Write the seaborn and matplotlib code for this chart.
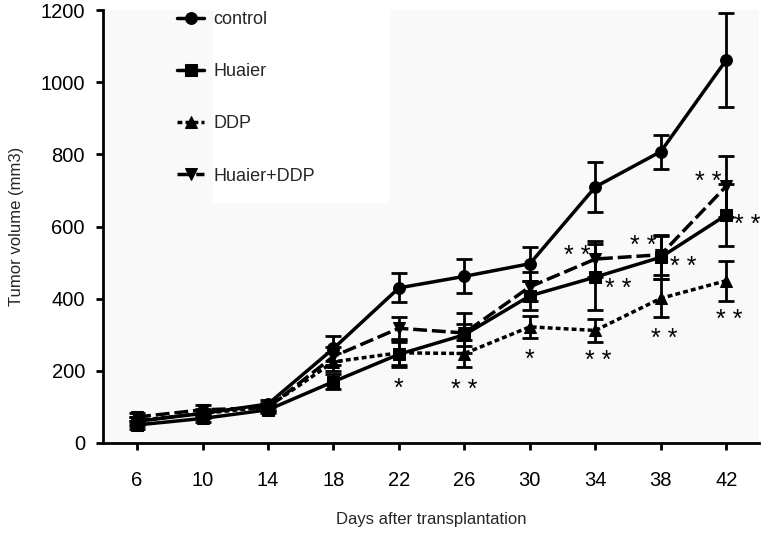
import matplotlib
matplotlib.use("Agg")
import matplotlib.pyplot as plt
import matplotlib.patches as mpatches
import seaborn as sns
import numpy as np

# Tumor growth data (mean +/- error)
days = [6, 10, 14, 18, 22, 26, 30, 34, 38, 42]
control = [60, 82, 108, 262, 430, 462, 497, 710, 808, 1062]
control_err = [12, 12, 10, 35, 40, 47, 47, 69, 47, 130]
huaier = [50, 68, 92, 170, 246, 300, 408, 460, 515, 632]
huaier_err = [10, 10, 10, 20, 35, 30, 40, 92, 60, 85]
ddp = [62, 82, 100, 225, 250, 248, 322, 312, 401, 450]
ddp_err = [10, 10, 10, 25, 35, 38, 30, 32, 53, 55]
hd = [72, 92, 98, 240, 318, 305, 433, 510, 522, 712]
hd_err = [12, 14, 10, 25, 30, 55, 40, 50, 55, 85]

group_names = ["control", "Huaier", "DDP", "Huaier+DDP"]

# significance marks: (x, y, text)
star_x = [22, 26, 30, 34.2, 32.9, 35.4, 38.2, 36.9, 39.4, 42.2, 40.9, 43.3]
star_y = [150, 147, 230, 227, 518, 427, 288, 546, 488, 341, 723, 604]
star_txt = ["*", "* *", "*", "* *", "* *", "* *", "* *", "* *", "* *", "* *", "* *", "* *"]

sns.set_style("ticks")
plt.rcParams["font.family"] = ["Liberation Sans", "DejaVu Sans"]

fig = plt.figure(figsize=(7.69, 5.35), dpi=100)
ax = fig.add_axes([0.134, 0.172, 0.853, 0.809])
ax.set_facecolor("#f9f9f9")

# white box behind the legend text
ax.add_patch(mpatches.Rectangle((0.168, 0.554), 0.27, 0.47, transform=ax.transAxes,
                                facecolor="white", edgecolor="none", zorder=0, clip_on=False))

series = [control, huaier, ddp, hd]
errs = [control_err, huaier_err, ddp_err, hd_err]
markers = ["o", "s", "^", "v"]
msizes = [8.5, 8.5, 8, 8]
styles = ["-", "-", (0, (1.4, 0.9)), (0, (4.0, 1.4))]

for name, vals, err, mk, ms, ls in zip(group_names, series, errs, markers, msizes, styles):
    ax.errorbar(days, vals, yerr=err, fmt="none", ecolor="black", elinewidth=2,
                capsize=6, capthick=2, zorder=2)
    sns.lineplot(x=days, y=vals, ax=ax, color="black", marker=mk, markersize=ms,
                 markeredgecolor="black", linewidth=2.5, linestyle=ls, label=name, zorder=3)

for x, y, t in zip(star_x, star_y, star_txt):
    ax.text(x, y, t, ha="center", va="center", fontsize=18, color="black")

ax.set_xlim(3.92, 44.0)
ax.set_ylim(0, 1200)
ax.set_xticks(days)
ax.set_yticks([0, 200, 400, 600, 800, 1000, 1200])
ax.tick_params(axis="both", labelsize=14.5, width=2, length=5, direction="out", colors="black")
ax.tick_params(axis="x", pad=15)
ax.tick_params(axis="y", pad=8)
for s in ["top", "right"]:
    ax.spines[s].set_visible(False)
for s in ["left", "bottom"]:
    ax.spines[s].set_linewidth(2)
    ax.spines[s].set_color("black")

ax.set_xlabel("Days after transplantation", fontsize=12, labelpad=16)
ax.set_ylabel("Tumor volume (mm3)", fontsize=12, labelpad=12)

ax.legend(loc="upper left", bbox_to_anchor=(0.113, 0.998), frameon=False, fontsize=13,
          handlelength=1.5, handletextpad=0.5, labelspacing=1.95, borderpad=0, borderaxespad=0)

fig.savefig("out.png", dpi=100, facecolor="white")
